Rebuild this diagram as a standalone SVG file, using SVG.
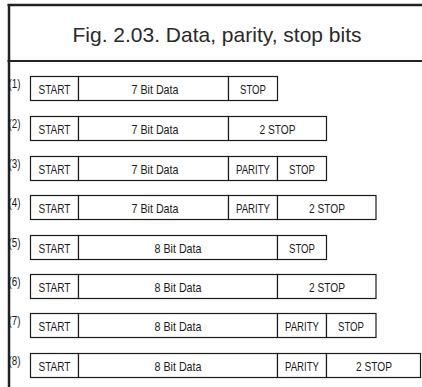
<svg xmlns="http://www.w3.org/2000/svg" width="422" height="387" viewBox="0 0 422 387">
<style>
.frame{stroke:#222;fill:none}
.box{fill:#fff;stroke:#1a1a1a;stroke-width:1.2}
.t{font-family:"Liberation Sans",Arial,sans-serif;font-size:13.5px;fill:#1a1a1a;text-anchor:middle}
.lbl{font-family:"Liberation Sans",Arial,sans-serif;font-size:12.5px;fill:#1a1a1a}
.title{font-family:"Liberation Sans",Arial,sans-serif;font-size:21px;fill:#2a2a2a;text-anchor:middle}
</style>
<rect width="422" height="387" fill="#fff"/>
<g id="frame">
<line class="frame" x1="7.5" y1="5" x2="422" y2="5" stroke-width="2.5"/>
<line class="frame" x1="7.5" y1="61" x2="422" y2="61" stroke-width="2.2"/>
<line class="frame" x1="9" y1="4" x2="9" y2="387" stroke-width="2.5"/>
</g>
<g id="title"><text class="title" x="217" y="42">Fig. 2.03. Data, parity, stop bits</text></g>
<g id="connectors"></g>
<g id="row1">
<text class="lbl" x="8.5" y="87.5" textLength="12" lengthAdjust="spacingAndGlyphs">(1)</text>
<rect class="box" x="30.5" y="76.5" width="48" height="24"/>
<rect class="box" x="78.5" y="76.5" width="150" height="24"/>
<rect class="box" x="228.5" y="76.5" width="49" height="24"/>
<text class="t" x="54.5" y="93.5" textLength="32" lengthAdjust="spacingAndGlyphs">START</text>
<text class="t" x="155" y="93.5" textLength="47" lengthAdjust="spacingAndGlyphs">7 Bit Data</text>
<text class="t" x="253" y="93.5" textLength="26" lengthAdjust="spacingAndGlyphs">STOP</text>
</g>
<g id="row2">
<text class="lbl" x="8.5" y="127.5" textLength="12" lengthAdjust="spacingAndGlyphs">(2)</text>
<rect class="box" x="30.5" y="116.5" width="48" height="24"/>
<rect class="box" x="78.5" y="116.5" width="150" height="24"/>
<rect class="box" x="228.5" y="116.5" width="98" height="24"/>
<text class="t" x="54.5" y="133.5" textLength="32" lengthAdjust="spacingAndGlyphs">START</text>
<text class="t" x="155" y="133.5" textLength="47" lengthAdjust="spacingAndGlyphs">7 Bit Data</text>
<text class="t" x="277.5" y="133.5" textLength="36" lengthAdjust="spacingAndGlyphs">2 STOP</text>
</g>
<g id="row3">
<text class="lbl" x="8.5" y="167.5" textLength="12" lengthAdjust="spacingAndGlyphs">(3)</text>
<rect class="box" x="30.5" y="156.5" width="48" height="24"/>
<rect class="box" x="78.5" y="156.5" width="150" height="24"/>
<rect class="box" x="228.5" y="156.5" width="49" height="24"/>
<rect class="box" x="277.5" y="156.5" width="49" height="24"/>
<text class="t" x="54.5" y="173.5" textLength="32" lengthAdjust="spacingAndGlyphs">START</text>
<text class="t" x="155" y="173.5" textLength="47" lengthAdjust="spacingAndGlyphs">7 Bit Data</text>
<text class="t" x="253" y="173.5" textLength="34" lengthAdjust="spacingAndGlyphs">PARITY</text>
<text class="t" x="302" y="173.5" textLength="26" lengthAdjust="spacingAndGlyphs">STOP</text>
</g>
<g id="row4">
<text class="lbl" x="8.5" y="206.5" textLength="12" lengthAdjust="spacingAndGlyphs">(4)</text>
<rect class="box" x="30.5" y="195.5" width="48" height="24"/>
<rect class="box" x="78.5" y="195.5" width="150" height="24"/>
<rect class="box" x="228.5" y="195.5" width="49" height="24"/>
<rect class="box" x="277.5" y="195.5" width="98.5" height="24"/>
<text class="t" x="54.5" y="212.5" textLength="32" lengthAdjust="spacingAndGlyphs">START</text>
<text class="t" x="155" y="212.5" textLength="47" lengthAdjust="spacingAndGlyphs">7 Bit Data</text>
<text class="t" x="253" y="212.5" textLength="34" lengthAdjust="spacingAndGlyphs">PARITY</text>
<text class="t" x="327" y="212.5" textLength="36" lengthAdjust="spacingAndGlyphs">2 STOP</text>
</g>
<g id="row5">
<text class="lbl" x="8.5" y="246.5" textLength="12" lengthAdjust="spacingAndGlyphs">(5)</text>
<rect class="box" x="30.5" y="235.5" width="48" height="24"/>
<rect class="box" x="78.5" y="235.5" width="199" height="24"/>
<rect class="box" x="277.5" y="235.5" width="49" height="24"/>
<text class="t" x="54.5" y="252.5" textLength="32" lengthAdjust="spacingAndGlyphs">START</text>
<text class="t" x="178" y="252.5" textLength="47" lengthAdjust="spacingAndGlyphs">8 Bit Data</text>
<text class="t" x="302" y="252.5" textLength="26" lengthAdjust="spacingAndGlyphs">STOP</text>
</g>
<g id="row6">
<text class="lbl" x="8.5" y="285.5" textLength="12" lengthAdjust="spacingAndGlyphs">(6)</text>
<rect class="box" x="30.5" y="274.5" width="48" height="24"/>
<rect class="box" x="78.5" y="274.5" width="199" height="24"/>
<rect class="box" x="277.5" y="274.5" width="98.5" height="24"/>
<text class="t" x="54.5" y="291.5" textLength="32" lengthAdjust="spacingAndGlyphs">START</text>
<text class="t" x="178" y="291.5" textLength="47" lengthAdjust="spacingAndGlyphs">8 Bit Data</text>
<text class="t" x="327" y="291.5" textLength="36" lengthAdjust="spacingAndGlyphs">2 STOP</text>
</g>
<g id="row7">
<text class="lbl" x="8.5" y="324.5" textLength="12" lengthAdjust="spacingAndGlyphs">(7)</text>
<rect class="box" x="30.5" y="313.5" width="48" height="24"/>
<rect class="box" x="78.5" y="313.5" width="199" height="24"/>
<rect class="box" x="277.5" y="313.5" width="49" height="24"/>
<rect class="box" x="326.5" y="313.5" width="49.5" height="24"/>
<text class="t" x="54.5" y="330.5" textLength="32" lengthAdjust="spacingAndGlyphs">START</text>
<text class="t" x="178" y="330.5" textLength="47" lengthAdjust="spacingAndGlyphs">8 Bit Data</text>
<text class="t" x="302" y="330.5" textLength="34" lengthAdjust="spacingAndGlyphs">PARITY</text>
<text class="t" x="351" y="330.5" textLength="26" lengthAdjust="spacingAndGlyphs">STOP</text>
</g>
<g id="row8">
<text class="lbl" x="8.5" y="364.5" textLength="12" lengthAdjust="spacingAndGlyphs">(8)</text>
<rect class="box" x="30.5" y="353.5" width="48" height="24"/>
<rect class="box" x="78.5" y="353.5" width="199" height="24"/>
<rect class="box" x="277.5" y="353.5" width="49" height="24"/>
<rect class="box" x="326.5" y="353.5" width="94" height="24"/>
<text class="t" x="54.5" y="370.5" textLength="32" lengthAdjust="spacingAndGlyphs">START</text>
<text class="t" x="178" y="370.5" textLength="47" lengthAdjust="spacingAndGlyphs">8 Bit Data</text>
<text class="t" x="302" y="370.5" textLength="34" lengthAdjust="spacingAndGlyphs">PARITY</text>
<text class="t" x="374" y="370.5" textLength="36" lengthAdjust="spacingAndGlyphs">2 STOP</text>
</g>
</svg>
